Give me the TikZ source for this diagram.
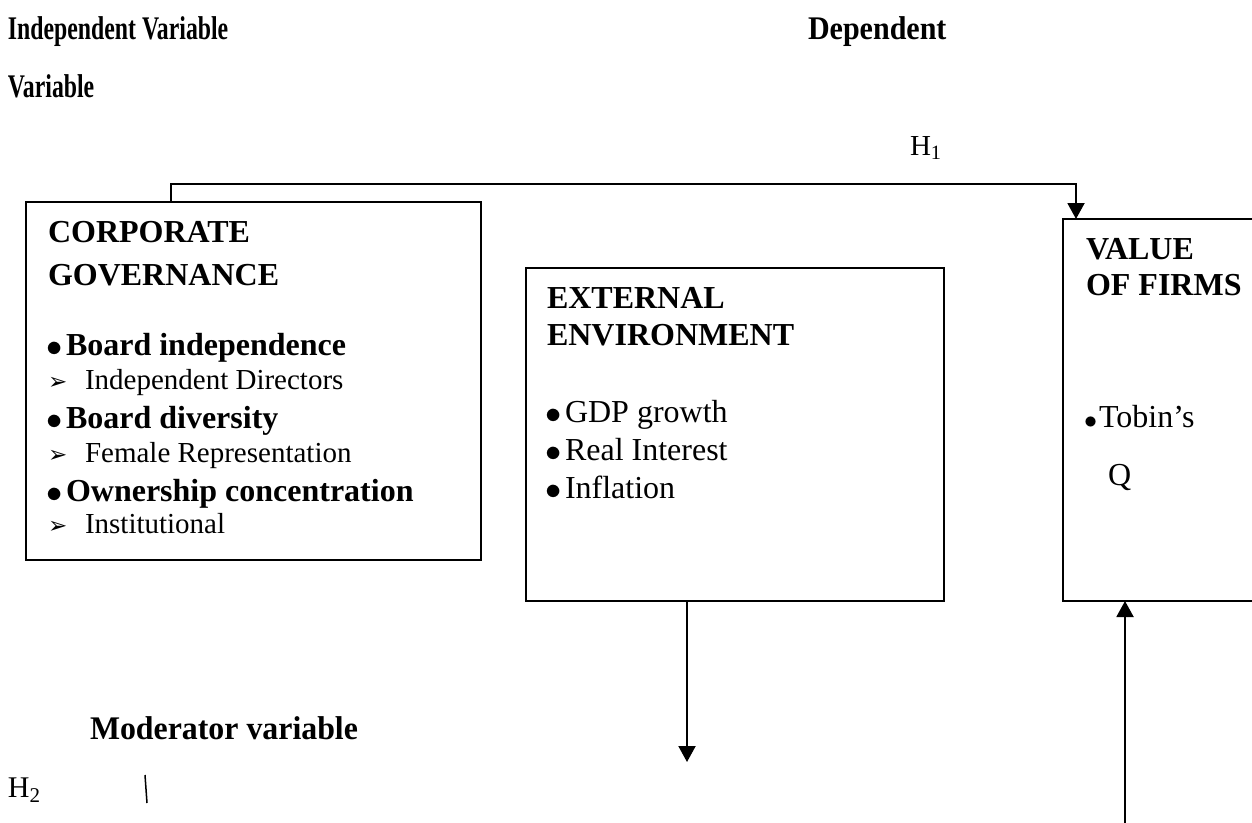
\documentclass[tikz,border=0pt]{standalone}
\usepackage{graphicx}
\usepackage{fontspec}
\setmainfont{Liberation Serif}
\newfontfamily\dejavu{DejaVu Sans}
\usetikzlibrary{arrows.meta}
\newcommand\fsz[1]{\fontsize{#1}{#1}\selectfont}
\newcommand\bul[1]{\makebox[#1][l]{\raisebox{-1.5pt}{\scalebox{1.3}{$\bullet$}}}}
\newcommand\sbul[1]{\makebox[#1][l]{\raisebox{-1pt}{\scalebox{1.05}{$\bullet$}}}}
\newcommand\arr{\makebox[37pt][l]{\raisebox{0pt}{\dejavu\fsz{23pt}➢}}}
\begin{document}
\begin{tikzpicture}[x=1pt,y=-1pt,
  box/.style={draw, line width=2pt, inner sep=0pt, outer sep=0pt},
  txt/.style={anchor=base west, inner sep=0pt, outer sep=0pt},
  hbig/.style={txt, font=\fsz{33pt}\bfseries},
  bold/.style={txt, font=\fsz{32pt}\bfseries},
  reg/.style={txt, font=\fsz{32pt}},
  small/.style={txt, font=\fsz{29pt}},
  hyp/.style={txt, font=\fsz{29pt}},
  conn/.style={line width=2pt, -{Triangle[width=17pt,length=16pt]}}
]
\path[use as bounding box, clip] (0,0) rectangle (1252,822);

% headings
\node[hbig] (iv) at (8,39) {\scalebox{0.72}[1]{Independent Variable}};
\node[hbig] (dv) at (808,39) {\scalebox{0.91}[1]{Dependent}};
\node[hbig] (vv) at (8,97) {\scalebox{0.72}[1]{Variable}};
\node[hyp] (h1) at (910,155) {H\textsubscript{1}};

% boxes
\node[box, minimum width=455pt, minimum height=358pt] (cg) at (253.5,381) {};
\node[box, minimum width=418pt, minimum height=333pt] (ee) at (735,434.5) {};
\node[box, minimum width=237pt, minimum height=382pt] (vf) at (1181.5,410) {};

% corporate governance
\node[bold] (cg1) at (48,242) {CORPORATE};
\node[bold] (cg2) at (48,285) {GOVERNANCE};
\node[bold] (cg3) at (46,355) {\bul{20pt}Board independence};
\node[small] (cg4) at (48,389) {\arr Independent Directors};
\node[bold] (cg5) at (46,428) {\bul{20pt}Board diversity};
\node[small] (cg6) at (48,462) {\arr Female Representation};
\node[bold] (cg7) at (46,501) {\bul{20pt}Ownership concentration};
\node[small] (cg8) at (48,533) {\arr Institutional};

% external environment
\node[bold] (ee1) at (547,308) {EXTERNAL};
\node[bold] (ee2) at (547,345) {ENVIRONMENT};
\node[reg] (ee3) at (545,422) {\bul{20pt}GDP growth};
\node[reg] (ee4) at (545,460) {\bul{20pt}Real Interest};
\node[reg] (ee5) at (545,498) {\bul{20pt}Inflation};

% value of firms
\node[bold] (vf1) at (1086,259) {VALUE};
\node[bold] (vf2) at (1086,295) {OF FIRMS};
\node[reg] (vf3) at (1084,427) {\sbul{15pt}Tobin’s};
\node[reg] (vf4) at (1108,485) {Q};

% moderator
\node[hbig] (mv) at (90,739) {\scalebox{0.965}[1]{Moderator variable}};
\node[txt, font=\fsz{30pt}] (h2) at (8,797) {H\textsubscript{2}};

% connectors
\coordinate (c1) at (171,184);
\coordinate (c2) at (1076,184);
\draw[conn] (c1 |- cg.north) -- (c1) -- (c2) -- (c2 |- vf.north);
\coordinate (d1) at (687,762);
\draw[conn] (d1 |- ee.south) -- (d1);
\coordinate (u1) at (1125,830);
\draw[conn] (u1) -- (u1 |- vf.south);
\coordinate (b1) at (145,775);
\coordinate (b2) at (147,803);
\draw[line width=1.5pt] (b1) -- (b2);
\end{tikzpicture}
\end{document}
